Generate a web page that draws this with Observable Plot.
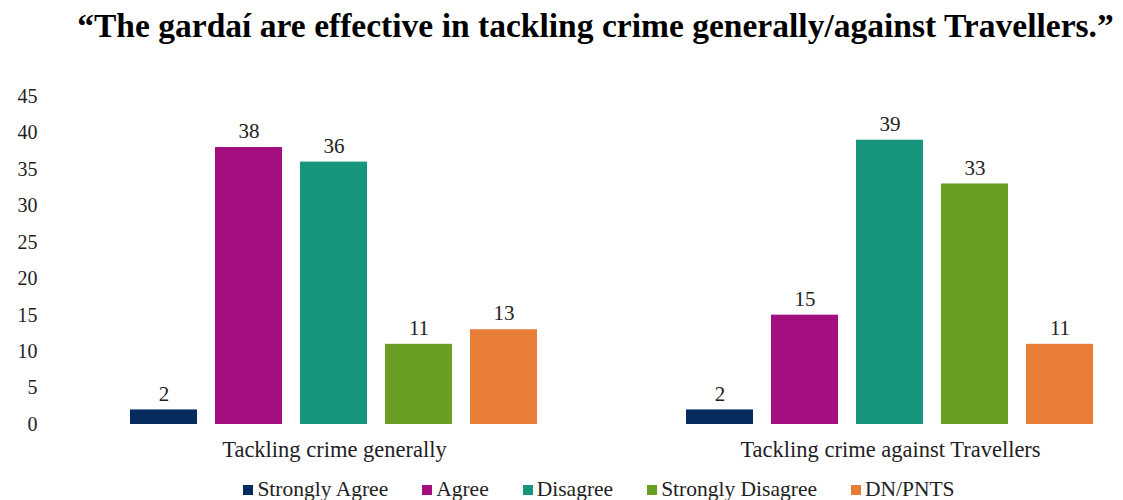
<!DOCTYPE html>
<html><head><meta charset="utf-8">
<script src="https://cdn.jsdelivr.net/npm/d3@7"></script>
<script src="https://cdn.jsdelivr.net/npm/@observablehq/plot@0.6"></script>
<style>
body{margin:0;background:#fff;font-family:"Liberation Serif",serif;width:1123px;}
#title{height:80px;position:relative;}
#title span{position:absolute;left:0;width:1123px;top:6px;text-align:center;transform:translateX(34px) scaleX(0.972);font-size:34.5px;font-weight:bold;color:#000;white-space:nowrap;}
#legend{display:flex;justify-content:center;padding-left:75px;margin-top:7px;font-size:21.5px;color:#222;}
.li{display:flex;align-items:center;margin:0 17px;}
.sw{width:10px;height:10px;margin-right:4px;}
</style></head><body>
<div id="title"><span>“The gardaí are effective in tackling crime generally/against Travellers.”</span></div>
<div id="chart"></div>
<div id="legend"></div>
<script>
const groups = ["Tackling crime generally", "Tackling crime against Travellers"];
const responses = ["Strongly Agree", "Agree", "Disagree", "Strongly Disagree", "DN/PNTS"];
const generally = [2, 38, 36, 11, 13];
const travellers = [2, 15, 39, 33, 11];
const colors = ["#062C5E", "#A30F7E", "#17957B", "#699E22", "#E87D38"];
const yTicks = [0, 5, 10, 15, 20, 25, 30, 35, 40, 45];

const data = [];
responses.forEach((r, i) => data.push({group: groups[0], response: r, value: generally[i]}));
responses.forEach((r, i) => data.push({group: groups[1], response: r, value: travellers[i]}));

const chart = Plot.plot({
  width: 1123, height: 390,
  marginLeft: 101, marginRight: 0, marginTop: 16, marginBottom: 46,
  style: {fontFamily: "Liberation Serif, serif", fontSize: "20px", color: "#222", background: "#fff"},
  fx: {domain: groups, paddingInner: 0.162, paddingOuter: 0, label: null, axis: null},
  x: {domain: responses, paddingInner: 0.21, paddingOuter: 0.345, axis: null},
  y: {domain: [0, 45], label: null},
  color: {domain: responses, range: colors},
  marks: [
    Plot.barY(data, {fx: "group", x: "response", y: "value", fill: "response"}),
    Plot.text(data, {fx: "group", x: "response", y: "value", text: d => String(d.value), dy: -16, fontSize: 21, fill: "#222"}),
    Plot.axisY({ticks: yTicks, tickSize: 0, tickPadding: 64, fontSize: 20, label: null}),
    Plot.axisFx({anchor: "bottom", tickSize: 0, tickPadding: 17, label: null, fontSize: 22.5})
  ]
});
document.getElementById("chart").appendChild(chart);

const leg = document.getElementById("legend");
responses.forEach((r, i) => {
  const it = document.createElement("div"); it.className = "li";
  const sw = document.createElement("div"); sw.className = "sw"; sw.style.background = colors[i];
  const t = document.createElement("span"); t.textContent = r;
  it.appendChild(sw); it.appendChild(t); leg.appendChild(it);
});
</script>
</body></html>
